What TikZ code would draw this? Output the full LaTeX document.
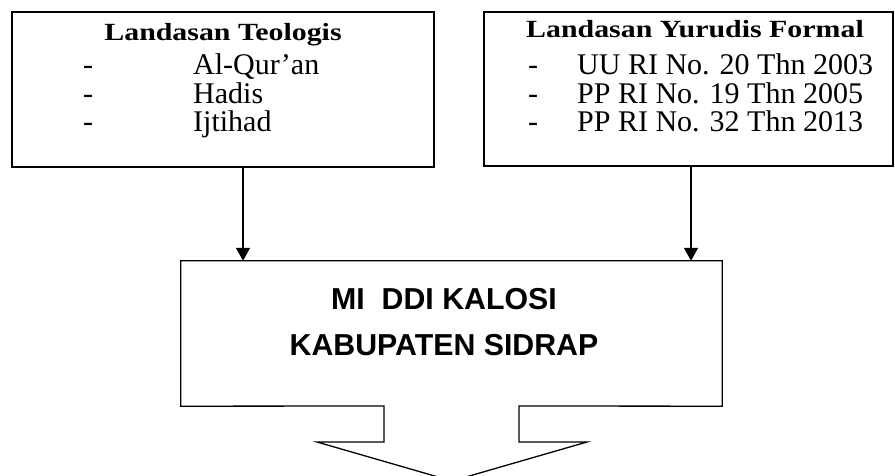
\documentclass[tikz,border=0pt]{standalone}
\usepackage{fontspec}
\setmainfont{Liberation Serif}
\newfontfamily\titlefont[FakeStretch=1.21]{Liberation Serif}
\newfontfamily\arialfont{Liberation Sans}
\usetikzlibrary{arrows.meta}
\begin{document}
\begin{tikzpicture}[x=1pt,y=-1pt,
  boxline/.style={draw=black,line width=1.3pt},
  frame/.style={boxline,rectangle,inner sep=0pt},
  titletext/.style={anchor=base,inner sep=0pt,font=\titlefont\bfseries\fontsize{24.7}{28}\selectfont},
  itemtext/.style={anchor=base west,inner sep=0pt,font=\fontsize{30}{28}\selectfont},
  maintext/.style={anchor=base,inner sep=0pt,font=\arialfont\bfseries\fontsize{30.3}{46}\selectfont},
  arr/.style={line width=1.3pt,-{Triangle[width=14pt,length=13pt]}}]
\useasboundingbox (0,0) rectangle (895,476);
\begin{scope}
\clip (0,0) rectangle (895,476);
% boxes
\node[frame,minimum width=422pt,minimum height=155pt] (lbox) at (223,89.5) {};
\node[frame,minimum width=409pt,minimum height=154pt] (rbox) at (688.5,89) {};
\node[rectangle,inner sep=0pt,minimum width=541pt,minimum height=145pt] (main) at (451.5,333.5) {};
\draw[boxline,line join=miter] (main.south west) -- (main.north west) -- (main.north east) -- (main.south east)
  -- (519,406) -- (519,442) -- (587,442) -- (452,481) -- (317,442) -- (384,442) -- (384,406) -- cycle;
% left text
\node[titletext] (lt) at (223,41) {Landasan Teologis};
\node[itemtext] (ld1) at (83,75) {-};
\node[itemtext] (li1) at (193,75) {Al-Qur’an};
\node[itemtext] (ld2) at (83,104) {-};
\node[itemtext] (li2) at (193,104) {Hadis};
\node[itemtext] (ld3) at (83,132) {-};
\node[itemtext] (li3) at (193,132) {Ijtihad};
% right text
\node[titletext] (rt) at (695,38) {Landasan Yurudis Formal};
\node[itemtext] (rd1) at (528,75) {-};
\node[itemtext] (ri1) at (577,75) {UU RI No. 20 Thn 2003};
\node[itemtext] (rd2) at (528,104) {-};
\node[itemtext] (ri2) at (577,104) {PP RI No. 19 Thn 2005};
\node[itemtext] (rd3) at (528,132) {-};
\node[itemtext] (ri3) at (577,132) {PP RI No. 32 Thn 2013};
% main text
\node[maintext] (m1) at (444,309) {MI\ \ DDI KALOSI};
\node[maintext] (m2) at (444,355) {KABUPATEN SIDRAP};
% arrows
\draw[arr] ([xshift=20pt]lbox.south) -- ([xshift=20pt]lbox.south |- main.north);
\draw[arr] ([xshift=2.5pt]rbox.south) -- ([xshift=2.5pt]rbox.south |- main.north);
\end{scope}
\end{tikzpicture}
\end{document}
